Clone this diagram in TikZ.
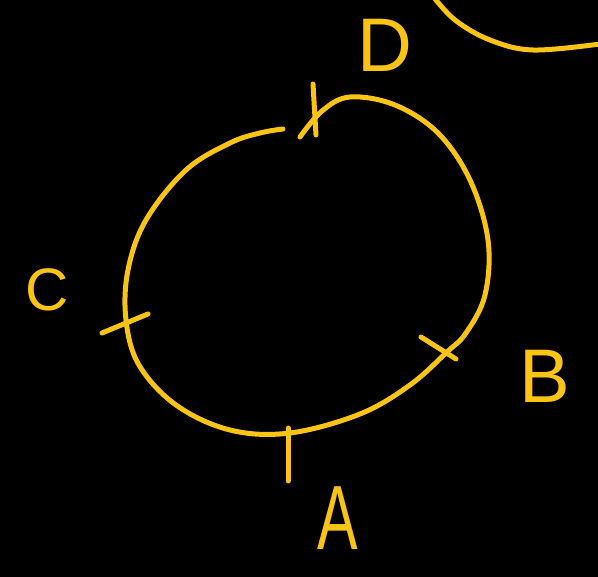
\documentclass[tikz,border=0pt]{standalone}
\usepackage{fontspec}
\setmainfont{Liberation Sans}
\definecolor{pen}{RGB}{250,196,20}
\begin{document}
\begin{tikzpicture}[x=1pt,y=-1pt,
  stroke/.style={draw=pen,line width=5pt,line cap=round,line join=round},
  lbl/.style={text=pen,inner sep=0pt,font=\fontsize{76}{76}\selectfont}]
\fill[black] (0,0) rectangle (598,577);
\useasboundingbox (0,0) rectangle (598,577);
% main loop
\draw[stroke] plot[smooth,tension=0.6] coordinates {
 (300,137) (322,111) (350,97) (395,105) (438,133) (470,180) (488,240)
 (485,295) (466,333) (447,352) (410,385) (360,414) (290,433) (230,430)
 (176,405) (139,365) (126,320) (128,270) (146,220) (186,170) (230,143)
 (260,133) (283,129)};
% ticks
\draw[stroke] (313,84) -- (316,135);
\draw[stroke] (288,428) -- (288,481);
\draw[stroke] (102,333) -- (148,314);
\draw[stroke] (421,337) -- (456,359);
% top-right arc
\draw[stroke] plot[smooth,tension=0.6] coordinates {(432,-5) (455,20) (490,40) (533,50) (600,44)};
% labels
\node[lbl] (D) at (385,45) {D};
\node[lbl,font=\fontsize{60}{60}\selectfont] (C) at (47,290) {C};
\node[lbl] (B) at (545,376) {B};
\node[lbl,xscale=0.8,yscale=1.2] (A) at (338,518) {A};
\end{tikzpicture}
\end{document}
